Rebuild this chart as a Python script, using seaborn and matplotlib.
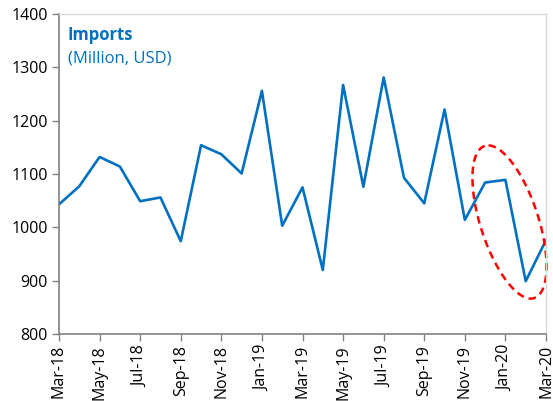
import numpy as np
import pandas as pd
import matplotlib
matplotlib.use("Agg")
import matplotlib.pyplot as plt
import seaborn as sns

months = ["Mar-18", "Apr-18", "May-18", "Jun-18", "Jul-18", "Aug-18", "Sep-18",
          "Oct-18", "Nov-18", "Dec-18", "Jan-19", "Feb-19", "Mar-19", "Apr-19",
          "May-19", "Jun-19", "Jul-19", "Aug-19", "Sep-19", "Oct-19", "Nov-19",
          "Dec-19", "Jan-20", "Feb-20", "Mar-20"]
imports = [1043, 1077, 1132, 1114, 1049, 1056, 974, 1154, 1137, 1101, 1256,
           1003, 1075, 920, 1267, 1076, 1281, 1093, 1045, 1221, 1014, 1084,
           1089, 899, 976]

sns.set_theme(style="white")
plt.rcParams['font.family'] = ['Open Sans', 'DejaVu Sans']

df = pd.DataFrame({"idx": np.arange(len(months)), "month": months, "value": imports})

fig = plt.figure(figsize=(5.53, 4.01), dpi=100)
ax = fig.add_axes([59/553, 1 - 334/401, (546 - 59)/553, (334 - 14)/401])

sns.lineplot(data=df, x="idx", y="value", ax=ax, color="#0070C0", linewidth=1.9)

ax.set_xlim(0, len(months) - 1)
ax.set_ylim(800, 1400)
ax.set_yticks(np.arange(800, 1401, 100))
ax.set_xticks(df["idx"][::2])
ax.set_xticklabels(df["month"][::2], rotation=90)
ax.set_xlabel("")
ax.set_ylabel("")

for s in ["left", "bottom"]:
    ax.spines[s].set_color("#808080")
    ax.spines[s].set_linewidth(1.2)
for s in ["top", "right"]:
    ax.spines[s].set_color("#D9D9D9")
    ax.spines[s].set_linewidth(1.0)

ax.tick_params(axis="both", which="major", direction="out", length=5, width=1,
               color="#808080", labelsize=11.5, labelcolor="#000000", pad=3)
ax.tick_params(axis="y", left=True)
ax.tick_params(axis="x", bottom=True)

ax.text(0.018, 0.935, "Imports", transform=ax.transAxes, color="#0070C0",
        fontsize=12, fontweight="bold", va="center", ha="left")
ax.text(0.018, 0.86, "(Million, USD)", transform=ax.transAxes, color="#0070C0",
        fontsize=12, va="center", ha="left")

# red dashed ellipse annotation (drawn in pixel space, converted to data)
fig.canvas.draw()
cx, cy = ax.transData.transform((22.2, 1010))
t = np.linspace(0, 2 * np.pi, 300)
a, b, ang = 80, 29, np.deg2rad(108)
px = cx + a * np.cos(t) * np.cos(ang) - b * np.sin(t) * np.sin(ang)
py = cy + a * np.cos(t) * np.sin(ang) + b * np.sin(t) * np.cos(ang)
dpts = ax.transData.inverted().transform(np.column_stack([px, py]))
ax.plot(dpts[:, 0], dpts[:, 1], color="#FF0000", linewidth=1.8,
        linestyle=(0, (3, 2)), clip_on=False)

fig.savefig("out.png", dpi=100)
